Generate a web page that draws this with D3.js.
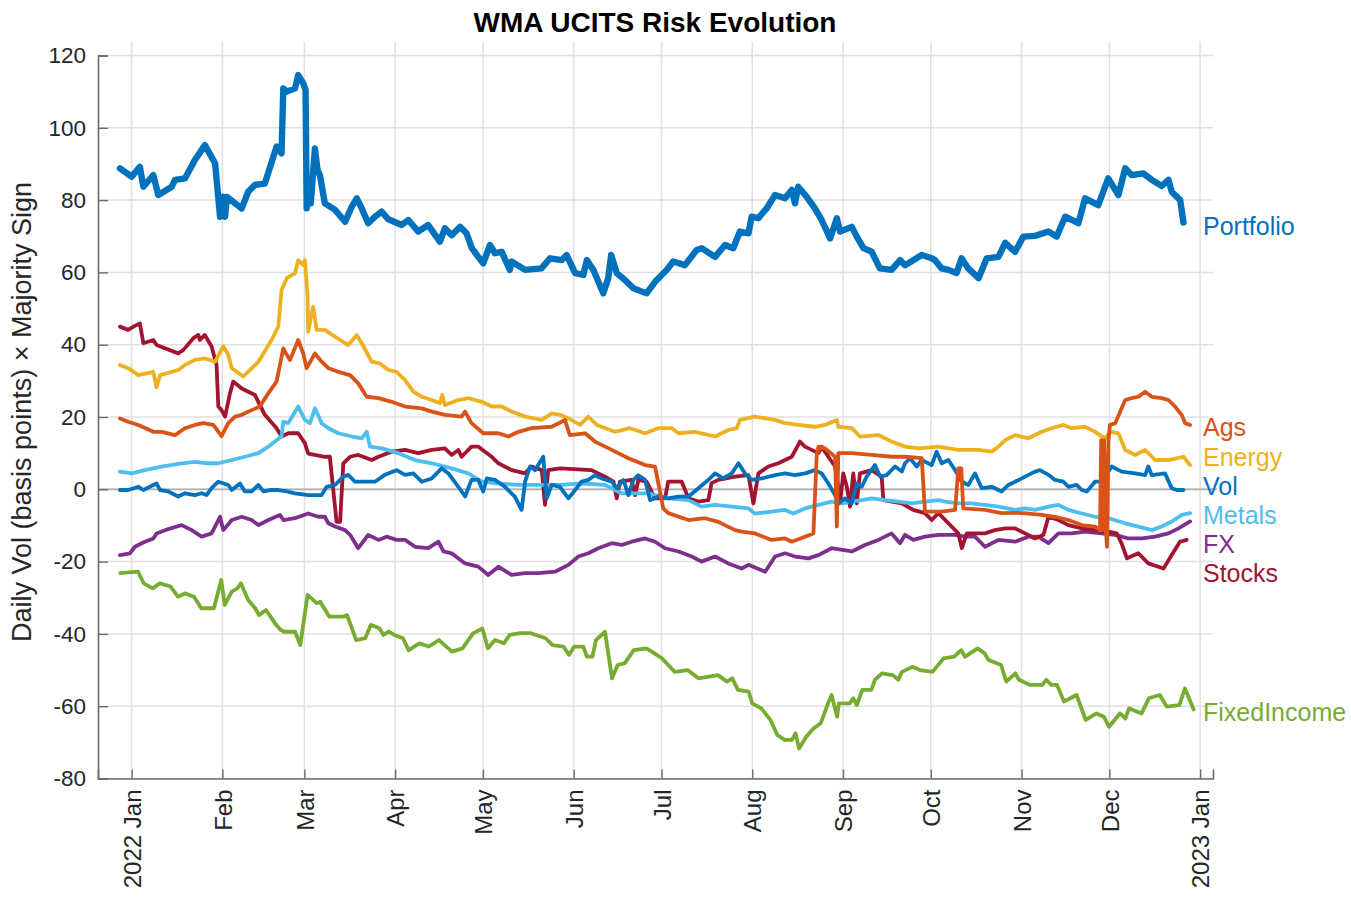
<!DOCTYPE html>
<html>
<head>
<meta charset="utf-8">
<script src="https://cdn.jsdelivr.net/npm/d3@7/dist/d3.min.js"></script>
<style>
  html, body { margin: 0; padding: 0; background: #ffffff; }
  svg { display: block; font-family: Arial, "Liberation Sans", Helvetica, sans-serif; }
</style>
</head>
<body>
<svg id="chart" width="1351" height="897"></svg>
<script>
// ---------------- DATA (day offset from 2022-01-01, value) ----------------
const chartTitle = "WMA UCITS Risk Evolution";
const yAxisLabel = "Daily Vol (basis points) \u00D7 Majority Sign";
const yTicks = [-80, -60, -40, -20, 0, 20, 40, 60, 80, 100, 120];
const monthTickLabels = ["2022 Jan","Feb","Mar","Apr","May","Jun","Jul","Aug","Sep","Oct","Nov","Dec","2023 Jan"];

const seriesNames = ["FixedIncome","FX","Stocks","Metals","Vol","Energy","Ags","Portfolio"];
const seriesColors = ["#77AC30","#7E2F8E","#A2142F","#4DBEEE","#0072BD","#EDB120","#D95319","#0072BD"];
// label vertical positions (value units) as placed at the right of the plot
const labelValues = [-61.6, -15.1, -23.1, -7.1, 0.9, 8.9, 17.2, 72.8];

const portfolio = [[-4,88.8],[0,86.5],[2.8,89.2],[4,83.7],[7.4,86.9],[9.1,81.4],[13.7,83.7],[14.8,85.6],[18.2,86.0],[21.6,91.1],[25,95.2],[28.5,90.2],[30.2,75.4],[31.3,80.9],[31.9,75.4],[32.5,80.9],[37.6,77.7],[39.8,82.3],[42.1,84.2],[45.5,84.6],[49.5,94.8],[51.2,92.9],[51.8,110.9],[53,110],[55.8,110.9],[56.9,114.6],[58.6,112.3],[59.4,110.5],[59.8,77.7],[60.3,84.6],[61.2,79.1],[62.6,94.3],[63.5,88.3],[64.3,86.9],[66,79.1],[69.5,77.3],[72.9,74],[75.2,78.2],[76.9,80.5],[78.6,77.7],[80.8,73.6],[83.1,75.4],[85.4,76.8],[87.7,74.7],[92.2,73.1],[94.5,74.5],[97.9,71.3],[101.3,73.1],[105.3,68.5],[107,72.2],[109.3,70.3],[112.2,72.6],[114.4,70.8],[116.2,66.7],[120.1,62.5],[122.4,67.6],[124.1,65.3],[126.4,65.7],[129.2,60.7],[129.8,63],[134.4,60.7],[140,61.1],[142.9,63.9],[146.9,63.4],[148.6,64.8],[151.5,59.8],[154.3,59.3],[155.5,63.4],[157.7,60.7],[161.1,54.2],[162.8,58.4],[163.8,64.8],[165.7,59.8],[168.5,57.9],[171.4,55.6],[175.9,54.2],[178.8,57.4],[182.8,60.7],[185,63],[189,62],[193,66.2],[194.7,66.7],[199.3,64.3],[202.7,67.6],[205.5,66.7],[207.8,71.3],[210.7,70.8],[211.8,75.4],[214.1,75],[216.9,77.7],[219.8,81.4],[223.2,80.5],[225.5,82.8],[226.6,79.1],[227.7,83.7],[230.6,80.9],[233.4,77.7],[235.7,74.5],[238.6,69.4],[240.9,75],[242,71.3],[246,72.6],[247.7,69.9],[250,66.7],[252.8,65.7],[255.6,61.1],[259.6,60.7],[262.5,63.4],[264.2,62],[269.9,64.8],[273.3,63.9],[274.4,63.4],[276.7,61.1],[279,60.7],[281.8,59.8],[283.5,63.9],[285.8,61.1],[289.3,58.4],[292.1,63.9],[296.1,64.3],[298.4,68.2],[301.8,65.7],[304.6,69.9],[308.6,70.1],[313.2,71.3],[316,69.9],[318.9,75.4],[323.4,73.6],[325.7,80.5],[330.2,78.6],[333.6,86],[337.1,81.4],[339.4,88.8],[341.6,86.9],[345.6,87.4],[348.5,85.6],[351.9,83.9],[354.2,85.6],[355.3,82.3],[358.2,80],[359.3,73.8]];

const stocks = [[-4,45],[-1.2,44.1],[0.6,45],[2.8,45.9],[4,40.4],[7.4,41.3],[8.5,39.9],[15.9,37.6],[17.6,38.5],[21.1,41.8],[22.8,42.7],[23.3,41.3],[25,42.7],[27.3,39.5],[29,34.4],[29.6,22.9],[30.7,21.9],[31.9,20.1],[33.6,26.6],[34.7,29.8],[37.6,27.9],[42.1,26.1],[45.5,20.6],[49.5,16.9],[51.2,14.6],[53.5,15.5],[56.9,15.5],[59.2,12.7],[60.3,9.9],[66,9],[67.7,9],[70,-9],[71.2,-9],[72.3,7.2],[74.6,9],[77.4,9.5],[82,8.1],[84.3,9],[88.8,10.4],[93.4,10.9],[97.9,10],[102.5,10.9],[107,11.3],[109.3,9.5],[111.6,10.9],[112.7,9],[116.1,11.8],[118.4,11.8],[120.7,10.4],[123,9],[125.3,7.2],[129.8,5.3],[134.4,4.4],[136.6,6.3],[140.1,5.3],[141.2,-4.3],[142.3,5.3],[146.3,5.8],[157.1,5.3],[161.7,3.5],[164.6,2.1],[165.7,-2.5],[166.8,2.1],[170.8,2.6],[172,-1.6],[173.1,2.6],[175.9,2.1],[178.8,-2.5],[182.2,-2.5],[183.3,2.1],[187.9,2.1],[190.2,-2.5],[193.6,-3.4],[197,-3],[198.1,1.7],[200.4,2.6],[206.1,3.5],[210.7,3.9],[212.4,-3.9],[214.1,4.4],[217.5,6.3],[220.9,7.2],[223.2,8.1],[225.5,9],[228.3,13.2],[230,11.8],[232.3,10.9],[234.6,10],[235.7,11.8],[238,9],[240.3,6.3],[241.4,0.7],[242,-3.9],[243.1,4.4],[244.3,0.7],[245.4,-4.8],[246.5,4.4],[247.7,-3.9],[248.8,4.4],[252.8,5.3],[256.2,3.5],[256.8,-3],[263.1,-3.9],[267,-5.7],[271,-6.6],[273.3,-8.5],[275.6,-6.6],[280.1,-10.3],[282.4,-12.2],[283.6,-16.3],[285.3,-12.2],[291.5,-12.2],[294.9,-11.3],[298.4,-10.8],[301.8,-10.8],[305.2,-12.2],[308.6,-13.6],[311.5,-12.6],[313.2,-7.6],[316.6,-8.5],[320,-9.9],[324.6,-10.8],[329.1,-11.3],[333.7,-11.7],[336.5,-12.2],[338.2,-15],[340,-19.1],[343.9,-17.7],[347.3,-20.5],[352.5,-21.9],[355.3,-18.2],[358.1,-14.5],[360.4,-14]];

const energy = [[-4,34.4],[-1.2,33.5],[2.3,31.6],[7.4,32.5],[8.5,28.2],[9.7,31.6],[15.9,33],[18.2,34.4],[21.6,35.8],[25,36.2],[28.5,35.3],[31.3,39.5],[33,37.2],[34.2,33.5],[38.1,31.2],[43.3,35.3],[47.8,41.3],[50.1,45],[51.2,55.1],[53,58.4],[55.8,59.8],[56.9,63.4],[58.6,62],[59.2,63.4],[60.1,53.3],[60.3,43.6],[62,50.5],[63.2,44.1],[66,44.1],[69.5,42.2],[74,39.9],[76.9,42.7],[78.6,40.4],[82,35.3],[84.8,34.8],[87.7,33],[90.5,32.5],[93.4,30.2],[96.2,27],[99.1,25.6],[102.5,24.7],[105.3,23.8],[106.1,26.1],[107,23.3],[111.6,24.7],[115,25.2],[119.6,24.2],[123,22.9],[126.4,22.9],[129.8,21.5],[134.4,20.1],[140.1,19.2],[143.5,21],[146.3,20.6],[149.2,19.6],[153.2,17.8],[156,20.1],[158.9,17.8],[165.1,15.9],[170.2,16.9],[175.4,15.5],[179.9,16.9],[184.5,16.9],[186.8,15.5],[192.4,15.9],[199.3,14.6],[203.8,16.4],[206.7,16.9],[207.8,19.2],[212.9,20.1],[219.8,19.2],[223.2,18.3],[227.8,17.8],[233.4,17.3],[236.9,17.8],[240.9,19.2],[241.4,17.3],[246,16.9],[248.8,14.6],[255.1,15],[259.6,13.2],[264.2,11.8],[268.8,11.3],[275.6,11.8],[282.4,10.9],[289.3,10.9],[293.8,10.4],[296.1,11.8],[298.4,13.6],[301.8,15],[306.3,14.1],[310.9,15.9],[314.3,16.9],[318.3,17.8],[321.1,16.9],[325.7,17.3],[329.1,15.9],[332.5,14.1],[334.2,15.9],[337.1,15.5],[339.4,10.9],[342.8,9.5],[346.2,10.9],[349.6,8.1],[354.2,8.1],[359.3,9],[361.6,6.7]];

const ags = [[-4,19.6],[-1.2,18.7],[2.3,17.8],[7.4,15.9],[10.2,15.9],[14.8,15],[18.2,16.9],[21.6,17.8],[24.5,18.3],[27.9,17.8],[30.7,14.7],[33,18.3],[35.3,20.1],[37.6,20.6],[41,21.9],[43.8,22.9],[46.7,26.6],[49.5,29.8],[51.8,39],[53,37.2],[54.1,35.8],[56.9,41.3],[58.6,37.6],[59.8,33.5],[62.6,37.6],[64.9,35.3],[67.2,33.5],[70.6,32.5],[74.6,31.6],[77.4,29.3],[80.3,25.6],[84.3,25.2],[88.8,24.2],[93.4,22.9],[99.1,22.4],[102.5,21.5],[107,20.6],[112.7,20.1],[113.9,21.5],[116.1,18.3],[120.1,15.5],[125.3,15.5],[128.7,14.6],[132.1,15.9],[136.6,16.9],[143.5,17.3],[146.9,18.7],[148,19.2],[149.7,15],[154.9,15.5],[158.3,13.2],[164,10.9],[169.7,8.6],[175.4,6.7],[178.8,6.3],[181.6,-5.3],[183.3,-6.6],[190.2,-8.5],[195.9,-8],[200.4,-9],[206.1,-11.3],[208.4,-11.7],[212.9,-12.2],[218.6,-14],[223.2,-13.6],[225.5,-14.5],[230,-13.1],[232.9,-12.2],[234,9],[234.6,11.8],[236.9,11.3],[240.3,9],[240.9,-10.3],[241.4,10],[246,10],[252.8,9.5],[259.6,9],[264.2,9],[269.9,8.6],[271,-6.2],[276.7,-6.2],[281.3,-5.7],[282.4,5.8],[283.4,5.8],[284.1,-5.3],[291.5,-5.7],[297.2,-6.6],[302.5,-6.5],[306.3,-6.7],[310.9,-7.1],[315.4,-7.6],[320,-8.5],[324.6,-9.9],[329.1,-10.3],[330.8,-11.3],[331.2,13.6],[331.6,-11.3],[332.2,13.6],[332.8,-11.3],[333.2,-15.9],[333.7,13.6],[334.2,17.8],[336,18.3],[339.4,24.7],[341.6,25.2],[343.9,25.6],[346.2,27],[348.5,25.6],[351.9,25.2],[354.2,24.7],[356.4,22.9],[358.7,20.6],[359.9,18.3],[361.6,17.8]];

const metals = [[-4,4.9],[0,4.4],[4.5,5.3],[10.2,6.3],[17.1,7.2],[21.6,7.6],[26.2,7.2],[29.6,7.2],[34.2,8.1],[38.7,9],[43.3,10],[46.7,11.8],[49.5,13.6],[51.2,14.6],[51.8,18.7],[53.5,18.3],[56.9,22.9],[59.2,19.2],[60.9,18.3],[62.6,22.4],[64.9,18.3],[67.2,16.9],[70.6,15.5],[75.2,14.6],[78.6,14.1],[80.3,15.9],[81.4,11.8],[85.4,11.3],[91.1,10],[96.8,8.1],[102.5,7.2],[109.3,5.8],[115,4.4],[119.6,2.1],[125.3,1.6],[132.1,1.2],[138.9,1.2],[146.3,1.2],[153.7,1.6],[161.7,1.2],[167.4,-1.1],[176.5,-1.1],[183.3,-2.5],[190.2,-3],[194.7,-4.8],[199.3,-4.3],[205,-4.8],[210.7,-5.3],[212.9,-6.7],[218.6,-6.2],[223.2,-5.7],[226,-6.7],[230,-5.3],[234.6,-4.3],[239.1,-3.4],[242.6,-3.9],[246,-3.4],[249.4,-3],[252.8,-2.5],[257.4,-3],[261.9,-3.4],[266.5,-3.9],[271,-3.4],[275.6,-3],[277.9,-3.4],[282.4,-3.9],[287,-3.9],[291.5,-4.3],[296.1,-4.8],[301.8,-5.7],[305.2,-5.3],[308.6,-5.7],[313.2,-4.8],[316.6,-4.3],[320,-5.7],[324.6,-6.7],[329.1,-7.6],[333.7,-8],[339.4,-9.4],[343.9,-10.3],[348.5,-11.3],[351.9,-10.3],[355.3,-8.9],[358.7,-7.1],[361.6,-6.6]];

const vol = [[-4,-0.2],[-1.2,-0.2],[2.3,0.7],[4,-0.2],[7.4,1.2],[8.5,1.6],[9.7,-0.2],[12.5,-0.6],[15.9,-2],[18.2,-1.1],[21.6,-1.6],[23.9,-1.1],[25.6,-1.6],[27.3,0.3],[29.6,2.1],[33,1.2],[34.2,-0.2],[37,1.6],[38.7,-0.6],[41,-0.6],[43.3,1.2],[45,-0.6],[47.2,-0.2],[50.1,-0.2],[53,-0.6],[55.8,-1.1],[60.3,-1.6],[64.9,-1.6],[66.6,0.7],[69.5,1.2],[72.3,3.5],[74,4],[76.3,2.1],[79.7,2.1],[83.1,2.1],[86.5,4],[90.5,5.3],[93.4,4],[96.2,4.4],[99.1,2.1],[102.5,3],[105.9,5.8],[108.2,4.4],[111.6,0.7],[113.9,-2],[116.1,2.6],[118.4,2.6],[120.1,-0.6],[121.3,3],[124.1,2.6],[127.5,0.7],[130.9,-2],[133.2,-5.7],[134.4,2.1],[136.1,6.3],[137.8,5.3],[140.6,9],[141.8,-2.5],[143.5,1.2],[146.3,0.7],[149.2,-2.5],[151.5,-0.2],[153.7,2.1],[156,2.6],[158.3,3.9],[160.6,3],[164,2.1],[165.7,0.3],[168,2.6],[169.7,-1.6],[171.4,2.6],[173.1,3.9],[175.4,2.6],[177.1,-3],[179.9,-2],[183.3,-2.5],[186.8,-2],[190.2,-2],[193.6,0.3],[197,2.6],[199.3,4.4],[202.1,3],[205,4.4],[207.3,7.2],[209.5,4.4],[211.8,2.6],[215.2,3],[219.8,3.9],[223.2,4.4],[226.6,3.9],[230,4.4],[233.4,5.3],[235.7,4.4],[238,1.6],[240.3,-1.6],[241.4,-3.9],[243.7,-2.5],[246,-3.9],[247.7,1.6],[249.4,0.7],[251.1,3.5],[253.9,6.7],[255.7,3.5],[257.9,3.9],[260.8,6.3],[263.1,4.9],[264.2,7.2],[265.9,8.6],[268.2,6.3],[269.9,8.1],[273.3,6.7],[275,10.4],[276.7,7.2],[279,8.1],[281.3,5.3],[283.6,2.1],[285.8,1.2],[288.1,4.4],[290.4,0.3],[293.8,0.7],[297.2,-0.6],[299.5,1.2],[301.8,2.1],[305.2,3.5],[308.6,4.9],[310.3,5.3],[313.2,4],[315.4,2.6],[318.3,2.1],[320,0.7],[322.8,1.2],[324.6,-0.2],[326.3,-0.6],[329.1,2.1],[331.4,2.1],[334.8,6.3],[338.2,4.9],[342.8,4.4],[346.2,3.9],[347.3,6.3],[348.5,3.9],[353,4.4],[355.3,0.3],[357,-0.2],[359.3,-0.2]];

const fx = [[-4,-18.2],[-0.6,-17.7],[1.1,-15.9],[4.5,-14.5],[7.4,-13.6],[8.5,-12.2],[11.4,-11.3],[15.4,-10.3],[17.1,-9.9],[20.5,-11.3],[23.9,-13.1],[27.3,-12.2],[30.2,-7.6],[31.3,-11.3],[34.2,-8.5],[37.6,-7.6],[41,-8.5],[43.3,-9.9],[46.7,-8.5],[50.7,-7.1],[51.8,-8.5],[55.8,-8],[60.3,-6.7],[63.8,-7.6],[66,-7.6],[67.2,-9.4],[69.5,-10.3],[72.9,-11.3],[74.6,-12.6],[77.4,-16.3],[80.8,-12.6],[84.3,-14],[87.1,-13.1],[90.5,-14],[93.4,-14],[96.8,-15.9],[101.3,-16.3],[104.8,-14.5],[106.5,-17.2],[109.3,-17.7],[113.9,-20.5],[118.4,-21.4],[121.8,-23.7],[125.3,-21.4],[129.8,-23.7],[134.4,-23.2],[138.9,-23.2],[144.6,-22.8],[149.2,-20.9],[152.6,-18.6],[156,-17.7],[159.4,-16.3],[164,-14.9],[167.4,-15.4],[170.8,-14.5],[175.4,-13.6],[178.8,-14.5],[182.2,-16.3],[186.8,-17.2],[191.3,-18.6],[194.7,-20],[199.3,-18.6],[203.8,-20.5],[208.4,-21.9],[210.7,-20.9],[216.4,-22.8],[219.8,-18.6],[223.2,-17.7],[226.6,-18.6],[231.2,-19.1],[234.6,-18.2],[239.1,-16.3],[246,-17.2],[250.5,-15.4],[255.1,-14],[259.6,-12.2],[262.5,-14.9],[264.2,-12.6],[267,-14],[271,-13.1],[275.6,-12.6],[281.3,-12.6],[284.7,-13.1],[288.1,-13.1],[291.5,-15.9],[296.1,-14],[301.8,-14.5],[306.3,-13.1],[309.7,-13.1],[313.2,-14.9],[316.6,-12.2],[321.1,-12.2],[325.7,-11.7],[331.4,-12.2],[336,-12.6],[340.5,-13.6],[345.1,-13.6],[349.6,-13.1],[354.2,-12.2],[357.6,-10.8],[361.6,-8.9]];

const fixedIncome = [[-3.9,-23.2],[2.2,-22.8],[4.1,-26],[7.2,-27.4],[9.6,-26],[13.3,-26.9],[15.8,-29.7],[18.2,-28.8],[21.3,-29.7],[23.8,-32.9],[28.1,-32.9],[30.6,-25.1],[31.8,-32],[34.2,-28.3],[36.1,-27.4],[37.3,-26],[39.8,-30.6],[42.2,-32.9],[43.5,-34.8],[45.9,-33.4],[49,-37.1],[50.9,-38.9],[52.1,-39.4],[55.8,-39.4],[57.6,-43.1],[60.1,-29.2],[63.2,-31.5],[64.4,-31.1],[67.5,-35.2],[72.4,-35.2],[73.6,-34.8],[76.7,-41.7],[79.8,-41.2],[81.7,-37.5],[84.7,-38.5],[86,-40.3],[87.8,-39.4],[89.7,-40.3],[92.7,-41.2],[94.6,-44.5],[98.3,-42.6],[101.4,-43.5],[105,-41.7],[109.4,-44.9],[113,-44],[116.7,-39.8],[119.8,-38.5],[121.7,-44],[124.1,-41.7],[127.2,-42.6],[129.1,-40.3],[132.7,-39.8],[136.4,-39.8],[141.4,-41.2],[143.8,-43.1],[147.5,-43.5],[149.4,-45.8],[151.2,-43.5],[154.3,-43.5],[155.5,-46.3],[157.4,-46.3],[158.6,-41.7],[161.7,-39.4],[164.1,-52.3],[166,-48.6],[168.5,-48.1],[171.5,-44.5],[175.8,-44],[177.7,-44.9],[181.2,-46.8],[185.5,-50.5],[189.9,-50],[193.6,-52.3],[197.2,-51.8],[200.3,-51.4],[203.4,-53.2],[205.2,-52.3],[207.1,-55.5],[210.8,-56],[212,-59.2],[215.1,-60.6],[218.2,-63.8],[220.6,-68],[223.1,-69.3],[225.6,-69.3],[226.8,-67.5],[228,-71.7],[230.5,-68.4],[233,-66.1],[235.4,-64.7],[237.9,-59.2],[239.1,-56.9],[241,-62.9],[241.6,-59.2],[245.3,-59.2],[246.5,-57.8],[247.7,-59.7],[249.6,-55.5],[252.7,-55.5],[253.9,-52.7],[256.3,-50.9],[260,-51.4],[261.9,-52.7],[263.1,-50.5],[266.8,-49.1],[269.3,-50],[273.6,-50.5],[277.3,-46.8],[281,-46.3],[283.4,-44.5],[284.7,-46.3],[289,-44],[291.4,-45.4],[292.7,-47.2],[297,-48.6],[298.8,-53.2],[301.9,-50.9],[303.1,-52.7],[306.8,-54.1],[311.1,-54.1],[312.4,-52.7],[314.2,-54.1],[316.1,-54.1],[318.5,-58.7],[322.8,-56.9],[325.9,-63.8],[329.6,-62],[332.1,-62.9],[333.9,-65.7],[337.6,-62],[339.5,-63.4],[340.7,-60.6],[345,-62],[347.5,-57.8],[351.2,-56.9],[353.6,-60.1],[357.9,-59.7],[359.8,-55.1],[361,-57.4],[362.8,-60.9]];

const seriesData = [fixedIncome, fx, stocks, metals, vol, energy, ags, portfolio];
const seriesWidths = [3.8, 3.8, 3.8, 3.8, 3.8, 3.8, 3.8, 6.4];

// ---------------- CHART ----------------
const DAY = 864e5;
const baseTime = Date.UTC(2022, 0, 1);
const toDate = d => new Date(baseTime + d * DAY);

const svg = d3.select("#chart");
const pL = 98, pR = 1213, pT = 55.5, pB = 778.5;

const x = d3.scaleUtc()
  .domain([toDate(-11.5), toDate(369.4)])
  .range([pL, pR]);
const y = d3.scaleLinear()
  .domain([-80, 120])
  .range([pB, pT]);

const monthTicks = d3.range(0, 13).map(m => new Date(Date.UTC(2022, m, 1)));

// grid
const grid = svg.append("g");
grid.selectAll("line.v").data(monthTicks).join("line")
  .attr("x1", d => x(d)).attr("x2", d => x(d))
  .attr("y1", pT - 14).attr("y2", pB)
  .attr("stroke", "#e0e0e0").attr("stroke-width", 1.5);
grid.selectAll("line.h").data(yTicks).join("line")
  .attr("x1", pL).attr("x2", pR)
  .attr("y1", d => y(d)).attr("y2", d => y(d))
  .attr("stroke", "#e0e0e0").attr("stroke-width", 1.5);

// zero reference line
svg.append("line")
  .attr("x1", pL).attr("x2", pR + 4)
  .attr("y1", y(0)).attr("y2", y(0))
  .attr("stroke", "#b0b0b0").attr("stroke-width", 1.7);

// axes
const yAxis = d3.axisLeft(y).tickValues(yTicks).tickSize(-10).tickPadding(12).tickFormat(d3.format("d"));
const gy = svg.append("g").attr("transform", `translate(${pL},0)`).call(yAxis);
gy.select(".domain").attr("stroke", "#6b6b6b").attr("stroke-width", 1.6);
gy.selectAll(".tick line").attr("stroke", "#6b6b6b").attr("stroke-width", 1.4);
gy.selectAll(".tick text")
  .attr("font-size", 22.5).attr("fill", "#262626")
  .attr("font-family", "Arial, 'Liberation Sans', sans-serif")
  .text(d => d < 0 ? "-" + Math.abs(d) : d);

const xAxis = d3.axisBottom(x).tickValues(monthTicks).tickSize(-9).tickFormat((d, i) => monthTickLabels[i]);
const gx = svg.append("g").attr("transform", `translate(0,${pB})`).call(xAxis);
gx.select(".domain").attr("stroke", "#6b6b6b").attr("stroke-width", 1.6);
gx.selectAll(".tick line").attr("stroke", "#6b6b6b").attr("stroke-width", 1.4);
gx.selectAll(".tick text")
  .attr("font-size", 24).attr("fill", "#262626")
  .attr("font-family", "Arial, 'Liberation Sans', sans-serif")
  .attr("text-anchor", "end")
  .attr("transform", "rotate(-90)")
  .attr("x", -11).attr("y", 0).attr("dy", "0.36em");

// lines
const line = d3.line()
  .x(p => x(toDate(p[0])))
  .y(p => y(p[1]))
  .curve(d3.curveLinear);

const gLines = svg.append("g");
seriesData.forEach((data, i) => {
  gLines.append("path")
    .datum(data)
    .attr("d", line)
    .attr("fill", "none")
    .attr("stroke", seriesColors[i])
    .attr("stroke-width", seriesWidths[i])
    .attr("stroke-linejoin", "round")
    .attr("stroke-linecap", "round");
});

// series labels at right
const gLab = svg.append("g");
seriesNames.forEach((name, i) => {
  gLab.append("text")
    .attr("x", 1203)
    .attr("y", y(labelValues[i]))
    .attr("dy", "0.35em")
    .attr("font-size", 25)
    .attr("fill", seriesColors[i])
    .text(name);
});

// title
svg.append("text")
  .attr("x", 655).attr("y", 32)
  .attr("text-anchor", "middle")
  .attr("font-size", 28).attr("font-weight", "bold").attr("fill", "#000")
  .text(chartTitle);

// y label
svg.append("text")
  .attr("transform", `translate(31,${(pT + pB) / 2 - 5}) rotate(-90)`)
  .attr("text-anchor", "middle")
  .attr("font-size", 27).attr("fill", "#262626")
  .text(yAxisLabel);
</script>
</body>
</html>
